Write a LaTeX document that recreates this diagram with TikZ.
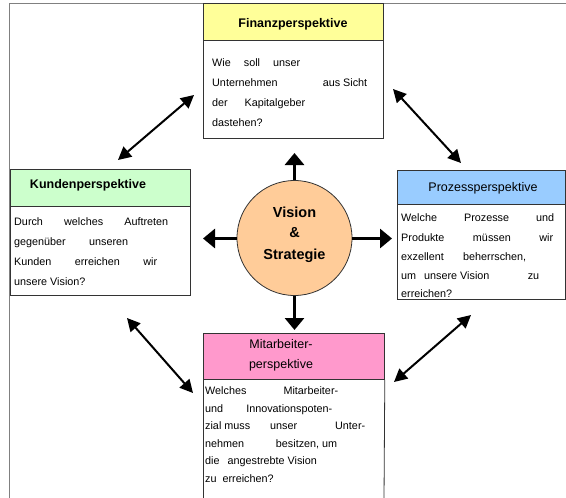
\documentclass[tikz,border=0pt]{standalone}
\usepackage{fontspec}
\setmainfont{Liberation Sans}
\usetikzlibrary{arrows.meta}
\definecolor{finfill}{HTML}{FFFF99}
\definecolor{kunfill}{HTML}{CCFFCC}
\definecolor{profill}{HTML}{99CCFF}
\definecolor{mitfill}{HTML}{FF99CC}
\definecolor{visfill}{HTML}{FFCC99}
\definecolor{edge}{HTML}{333333}
% a justified line of given width (in pt)
\newcommand{\jl}[2]{\makebox[#1pt][s]{#2}}
% a line of given width with hand-set gaps
\newcommand{\gl}[2]{\makebox[#1pt][l]{#2}}
\begin{document}
\begin{tikzpicture}[x=1pt,y=-1pt,
  frameline/.style={draw=gray, line width=1.5pt},
  boxpart/.style={draw=edge, line width=0.8pt, anchor=north west, inner sep=0pt},
  hdrtext/.style={inner sep=0pt, font=\fontsize{12.5}{14}\selectfont},
  txt/.style={anchor=base west, inner sep=0pt, font=\fontsize{10.8}{12}\selectfont},
  bigarrow/.style={line width=3.3pt, -{Triangle[length=12pt,width=19pt]}},
  diagarrow/.style={line width=2pt, {Triangle[length=13pt,width=13pt]}-{Triangle[length=13pt,width=13pt]}},
]
\useasboundingbox (0,0) rectangle (566,498);

% outer frame (top and left)
\draw[frameline] (9.5,500) -- (9.5,3.5) -- (567,3.5);

% ---------- Finanzperspektive ----------
\node[boxpart, fill=finfill, minimum width=180pt, minimum height=37pt] (finhead) at (203,3) {};
\node[boxpart, fill=white, minimum width=180pt, minimum height=98pt] (finbody) at (203,40) {};
\node[hdrtext, font=\fontsize{12.5}{14}\selectfont\bfseries] (fintitle) at (293,24) {Finanzperspektive};
\node[txt] (fin1) at (212,66.8) {\jl{88}{Wie soll unser}};
\node[txt] (fin2) at (212,86.8) {\gl{155}{Unternehmen\hfill aus Sicht}};
\node[txt] (fin3) at (212,106.8) {\jl{93}{der Kapitalgeber}};
\node[txt] (fin4) at (212,126.8) {dastehen?};

% ---------- Kundenperspektive ----------
\node[boxpart, fill=kunfill, minimum width=180.5pt, minimum height=37pt] (kunhead) at (9.5,169) {};
\node[boxpart, fill=white, minimum width=180.5pt, minimum height=89pt] (kunbody) at (9.5,206) {};
\node[hdrtext, font=\fontsize{12.5}{14}\selectfont\bfseries] (kuntitle) at (88,185) {Kundenperspektive};
\node[txt] (kun1) at (14,225.8) {\jl{154}{Durch welches Auftreten}};
\node[txt] (kun2) at (14,245.8) {\jl{114}{gegenüber unseren}};
\node[txt] (kun3) at (14,265.8) {\jl{143}{Kunden erreichen wir}};
\node[txt] (kun4) at (14,285.8) {unsere Vision?};

% ---------- Prozessperspektive ----------
\node[boxpart, fill=profill, minimum width=167.5pt, minimum height=34pt] (prohead) at (397,170) {};
\node[boxpart, fill=white, minimum width=167.5pt, minimum height=95pt] (probody) at (397,204) {};
\node[hdrtext] (protitle) at (483,188) {Prozessperspektive};
\node[txt] (pro1) at (401,221.8) {\jl{153}{Welche Prozesse und}};
\node[txt] (pro2) at (401,241.0) {\jl{152}{Produkte müssen wir}};
\node[txt] (pro3) at (401,260.2) {\jl{125}{exzellent beherrschen,}};
\node[txt] (pro4) at (401,279.4) {\gl{138}{um\hspace{8pt}unsere Vision\hfill zu}};
\node[txt] (pro5) at (401,297.8) {erreichen?};

% ---------- Mitarbeiterperspektive ----------
\node[boxpart, fill=mitfill, minimum width=181pt, minimum height=46pt] (mithead) at (203,333) {};
\coordinate (mitbl) at (203,500);
\coordinate (mitbr) at (384,500);
\draw[draw=edge, line width=0.8pt] (mithead.south west) -- (mitbl);
\draw[draw=edge, line width=0.8pt] (mithead.south east) -- (mitbr);
\node[hdrtext] (mittitleA) at (281,344) {Mitarbeiter-};
\node[hdrtext] (mittitleB) at (281,365) {perspektive};
\node[txt] (mit1) at (205,394.8) {\jl{133}{Welches Mitarbeiter-}};
\node[txt] (mit2) at (205,412.3) {\jl{127}{und Innovationspoten-}};
\node[txt] (mit3) at (205,429.8) {\gl{160}{zial muss\hspace{20pt}unser\hfill Unter-}};
\node[txt] (mit4) at (205,447.3) {\gl{132}{nehmen\hfill besitzen, um}};
\node[txt] (mit5) at (205,464.8) {\gl{128}{die\hspace{8pt}angestrebte Vision}};
\node[txt] (mit6) at (205,482.3) {\gl{77}{zu\hspace{6pt}erreichen?}};

% ---------- Vision & Strategie ----------
\node[circle, draw=edge, line width=0.8pt, fill=visfill, minimum size=115pt, inner sep=0pt] (vs) at (294.5,238) {};
\node[inner sep=0pt, font=\fontsize{14.5}{16}\selectfont\bfseries] (vsA) at (294.5,212) {Vision};
\node[inner sep=0pt, font=\fontsize{14.5}{16}\selectfont\bfseries] (vsB) at (294.5,233) {\&};
\node[inner sep=0pt, font=\fontsize{14.5}{16}\selectfont\bfseries] (vsC) at (294.5,256) {Strategie};

% arrows leaving the circle
\coordinate (tipN) at (294.5,153);
\coordinate (tipS) at (294.5,330);
\coordinate (tipW) at (203,238.5);
\coordinate (tipE) at (392,238.5);
\draw[bigarrow] (vs.north) -- (tipN);
\draw[bigarrow] (vs.south) -- (tipS);
\draw[bigarrow] (vs.west |- tipW) -- (tipW);
\draw[bigarrow] (vs.east |- tipE) -- (tipE);

% diagonal double arrows between the perspectives
\coordinate (tlA) at (194,95);   \coordinate (tlB) at (118,160);
\coordinate (trA) at (393,89);   \coordinate (trB) at (461,163);
\coordinate (blA) at (127,318);  \coordinate (blB) at (193,393);
\coordinate (brA) at (471,315);  \coordinate (brB) at (394,382);
\draw[diagarrow] (tlA) -- (tlB);
\draw[diagarrow] (trA) -- (trB);
\draw[diagarrow] (blA) -- (blB);
\draw[diagarrow] (brA) -- (brB);
\end{tikzpicture}
\end{document}
